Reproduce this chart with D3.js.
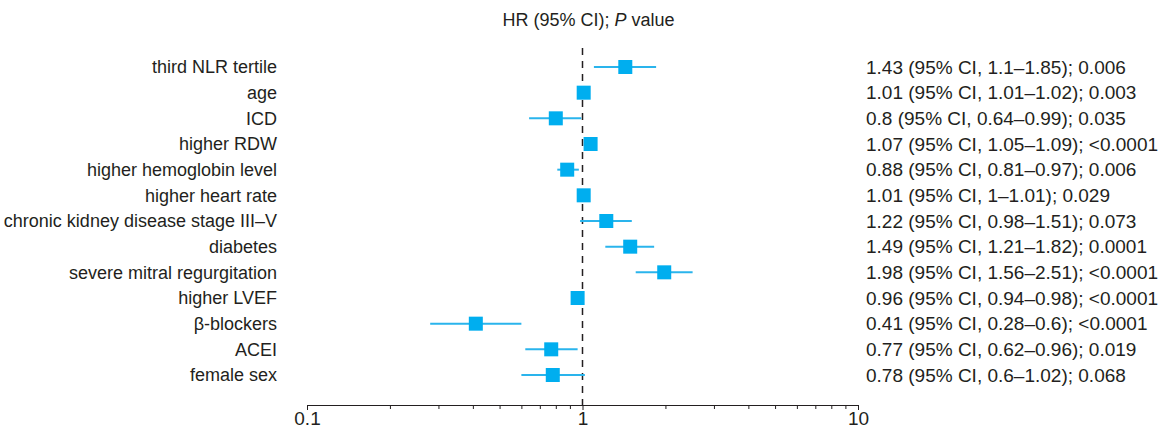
<!DOCTYPE html>
<html>
<head>
<meta charset="utf-8">
<script src="https://cdn.jsdelivr.net/npm/d3@7"></script>
<style>
  body { margin: 0; background: #fff; }
  text { font-family: "Liberation Sans", Arial, sans-serif; fill: #231f20; }
</style>
</head>
<body>
<svg></svg>
<script>
var width = 1165;
var height = 432;

// variables, top to bottom
var labels = ["third NLR tertile", "age", "ICD", "higher RDW", "higher hemoglobin level",
              "higher heart rate", "chronic kidney disease stage III\u2013V", "diabetes",
              "severe mitral regurgitation", "higher LVEF", "\u03b2-blockers", "ACEI", "female sex"];
var hr   = [1.43, 1.01, 0.8, 1.07, 0.88, 1.01, 1.22, 1.49, 1.98, 0.96, 0.41, 0.77, 0.78];
var low  = [1.1, 1.01, 0.64, 1.05, 0.81, 1, 0.98, 1.21, 1.56, 0.94, 0.28, 0.62, 0.6];
var high = [1.85, 1.02, 0.99, 1.09, 0.97, 1.01, 1.51, 1.82, 2.51, 0.98, 0.6, 0.96, 1.02];
var pval = ["0.006", "0.003", "0.035", "<0.0001", "0.006", "0.029", "0.073", "0.0001",
            "<0.0001", "<0.0001", "<0.0001", "0.019", "0.068"];
var ticks = [0.1, 1, 10];

var data = labels.map(function(l, i) {
    return {label: l, hr: hr[i], lo: low[i], hi: high[i], p: pval[i]};
});

var svg = d3.select("svg")
    .attr("width", width)
    .attr("height", height);

var xScale = d3.scaleLog()
    .domain([0.1, 10])
    .range([307, 858]);

var yScale = d3.scalePoint()
    .domain(labels)
    .range([67, 375]);

// axis with minor ticks
var minor = [];
for (var k = 0.1; k < 10; k *= 10) {
    for (var m = 2; m <= 9; m++) minor.push(+(k * m).toFixed(2));
}
var axisY = 405;
svg.append("g")
    .attr("transform", "translate(0," + axisY + ")")
    .call(d3.axisBottom(xScale).tickValues(minor).tickSize(4).tickFormat(""))
    .call(function(g) { g.select(".domain").remove(); })
    .selectAll("line").attr("stroke", "#231f20");

var xAxis = svg.append("g")
    .attr("transform", "translate(0," + axisY + ")")
    .call(d3.axisBottom(xScale).tickValues(ticks).tickSize(5).tickSizeOuter(0)
          .tickFormat(function(d) { return d; }));
xAxis.select(".domain").attr("stroke", "#231f20").attr("stroke-width", 1.2);
xAxis.selectAll("line").attr("stroke", "#231f20");
xAxis.selectAll("text")
    .attr("dy", 0)
    .attr("y", 20)
    .style("font-size", "19px")
    .style("fill", "#231f20");

// reference line at HR = 1
svg.append("line")
    .attr("x1", xScale(1)).attr("x2", xScale(1))
    .attr("y1", 48).attr("y2", axisY)
    .attr("stroke", "#231f20")
    .attr("stroke-width", 1.5)
    .attr("stroke-dasharray", "7,6");

// title
var title = svg.append("text")
    .attr("x", xScale(1) + 6)
    .attr("y", 26)
    .style("text-anchor", "middle")
    .style("font-size", "18px");
title.append("tspan").text("HR (95% CI); ");
title.append("tspan").style("font-style", "italic").text("P");
title.append("tspan").text(" value");

var rows = svg.selectAll(".row")
    .data(data)
    .enter()
    .append("g")
    .attr("class", "row")
    .attr("transform", function(d) { return "translate(0," + yScale(d.label) + ")"; });

rows.append("line")
    .attr("x1", function(d) { return xScale(d.lo); })
    .attr("x2", function(d) { return xScale(d.hi); })
    .attr("stroke", "#2ab4ec")
    .attr("stroke-width", 2);

rows.append("rect")
    .attr("x", function(d) { return xScale(d.hr) - 7; })
    .attr("y", -7)
    .attr("width", 14)
    .attr("height", 14)
    .attr("fill", "#00aeef");

rows.append("text")
    .attr("x", 277)
    .attr("dy", "0.35em")
    .style("text-anchor", "end")
    .style("font-size", "18px")
    .text(function(d) { return d.label; });

rows.append("text")
    .attr("x", 866)
    .attr("dy", "0.35em")
    .style("font-size", "19px")
    .text(function(d) {
        return d.hr + " (95% CI, " + d.lo + "\u2013" + d.hi + "); " + d.p;
    });
</script>
</body>
</html>
